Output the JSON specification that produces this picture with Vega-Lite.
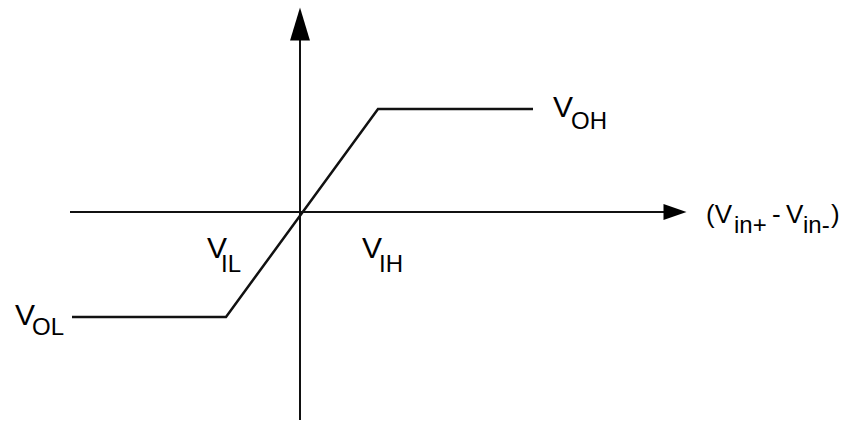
{
  "$schema": "https://vega.github.io/schema/vega-lite/v6.json",
  "width": 845,
  "height": 422,
  "autosize": {"type": "fit", "contains": "padding"},
  "padding": 0,
  "background": "white",
  "config": {"view": {"stroke": null}},
  "datasets": {
    "curve": [
      {"vin": -228, "vout": -105, "order": 1},
      {"vin": -74, "vout": -105, "order": 2},
      {"vin": 78, "vout": 103, "order": 3},
      {"vin": 233, "vout": 103, "order": 4}
    ],
    "axes": [
      {"axis": "x", "x1": -230, "x2": 364, "y1": 0, "y2": 0},
      {"axis": "y", "x1": 0, "x2": 0, "y1": 172, "y2": -208}
    ],
    "labels": [
      {"text": "V", "x": 253, "y": 95},
      {"text": "V", "x": -285, "y": -113},
      {"text": "V", "x": -93, "y": -46},
      {"text": "V", "x": 62, "y": -46}
    ],
    "subs": [
      {"text": "OH", "x": 271, "y": 83},
      {"text": "OL", "x": -268, "y": -123},
      {"text": "IL", "x": -79, "y": -60},
      {"text": "IH", "x": 79, "y": -60}
    ],
    "xlabel": [
      {"text": "(V", "x": 406, "y": -11},
      {"text": "-", "x": 472, "y": -11},
      {"text": "V", "x": 486, "y": -11},
      {"text": ")", "x": 531, "y": -11}
    ],
    "xsubs": [
      {"text": "in+", "x": 434, "y": -21},
      {"text": "in-", "x": 503, "y": -21}
    ]
  },
  "layer": [
    {
      "data": {"name": "axes"},
      "mark": {"type": "rule", "color": "#111", "strokeWidth": 2},
      "encoding": {
        "x": {"field": "x1", "type": "quantitative", "scale": {"domain": [-300, 545], "nice": false, "zero": false}, "axis": null},
        "x2": {"field": "x2"},
        "y": {"field": "y1", "type": "quantitative", "scale": {"domain": [-210, 212], "nice": false, "zero": false}, "axis": null},
        "y2": {"field": "y2"}
      }
    },
    {
      "data": {"values": [{"x": 375, "y": 0}]},
      "mark": {"type": "point", "shape": "M-1,-0.7L1,0L-1,0.7Z", "filled": true, "color": "#000", "opacity": 1, "size": 529},
      "encoding": {
        "x": {"field": "x", "type": "quantitative"},
        "y": {"field": "y", "type": "quantitative"}
      }
    },
    {
      "data": {"values": [{"x": 0, "y": 188}]},
      "mark": {"type": "point", "shape": "M-0.6,1L0,-1L0.6,1Z", "filled": true, "color": "#000", "opacity": 1, "size": 1100},
      "encoding": {
        "x": {"field": "x", "type": "quantitative"},
        "y": {"field": "y", "type": "quantitative"}
      }
    },
    {
      "data": {"name": "curve"},
      "mark": {"type": "line", "color": "#111", "strokeWidth": 2.5, "strokeJoin": "miter"},
      "encoding": {
        "x": {"field": "vin", "type": "quantitative"},
        "y": {"field": "vout", "type": "quantitative"},
        "order": {"field": "order"}
      }
    },
    {
      "data": {"name": "labels"},
      "mark": {"type": "text", "align": "left", "baseline": "alphabetic", "font": "Liberation Sans", "fontSize": 30, "color": "#000"},
      "encoding": {
        "x": {"field": "x", "type": "quantitative"},
        "y": {"field": "y", "type": "quantitative"},
        "text": {"field": "text"}
      }
    },
    {
      "data": {"name": "subs"},
      "mark": {"type": "text", "align": "left", "baseline": "alphabetic", "font": "Liberation Sans", "fontSize": 24, "color": "#000"},
      "encoding": {
        "x": {"field": "x", "type": "quantitative"},
        "y": {"field": "y", "type": "quantitative"},
        "text": {"field": "text"}
      }
    },
    {
      "data": {"name": "xlabel"},
      "mark": {"type": "text", "align": "left", "baseline": "alphabetic", "font": "Liberation Sans", "fontSize": 26, "color": "#000"},
      "encoding": {
        "x": {"field": "x", "type": "quantitative"},
        "y": {"field": "y", "type": "quantitative"},
        "text": {"field": "text"}
      }
    },
    {
      "data": {"name": "xsubs"},
      "mark": {"type": "text", "align": "left", "baseline": "alphabetic", "font": "Liberation Sans", "fontSize": 24, "color": "#000"},
      "encoding": {
        "x": {"field": "x", "type": "quantitative"},
        "y": {"field": "y", "type": "quantitative"},
        "text": {"field": "text"}
      }
    }
  ]
}
